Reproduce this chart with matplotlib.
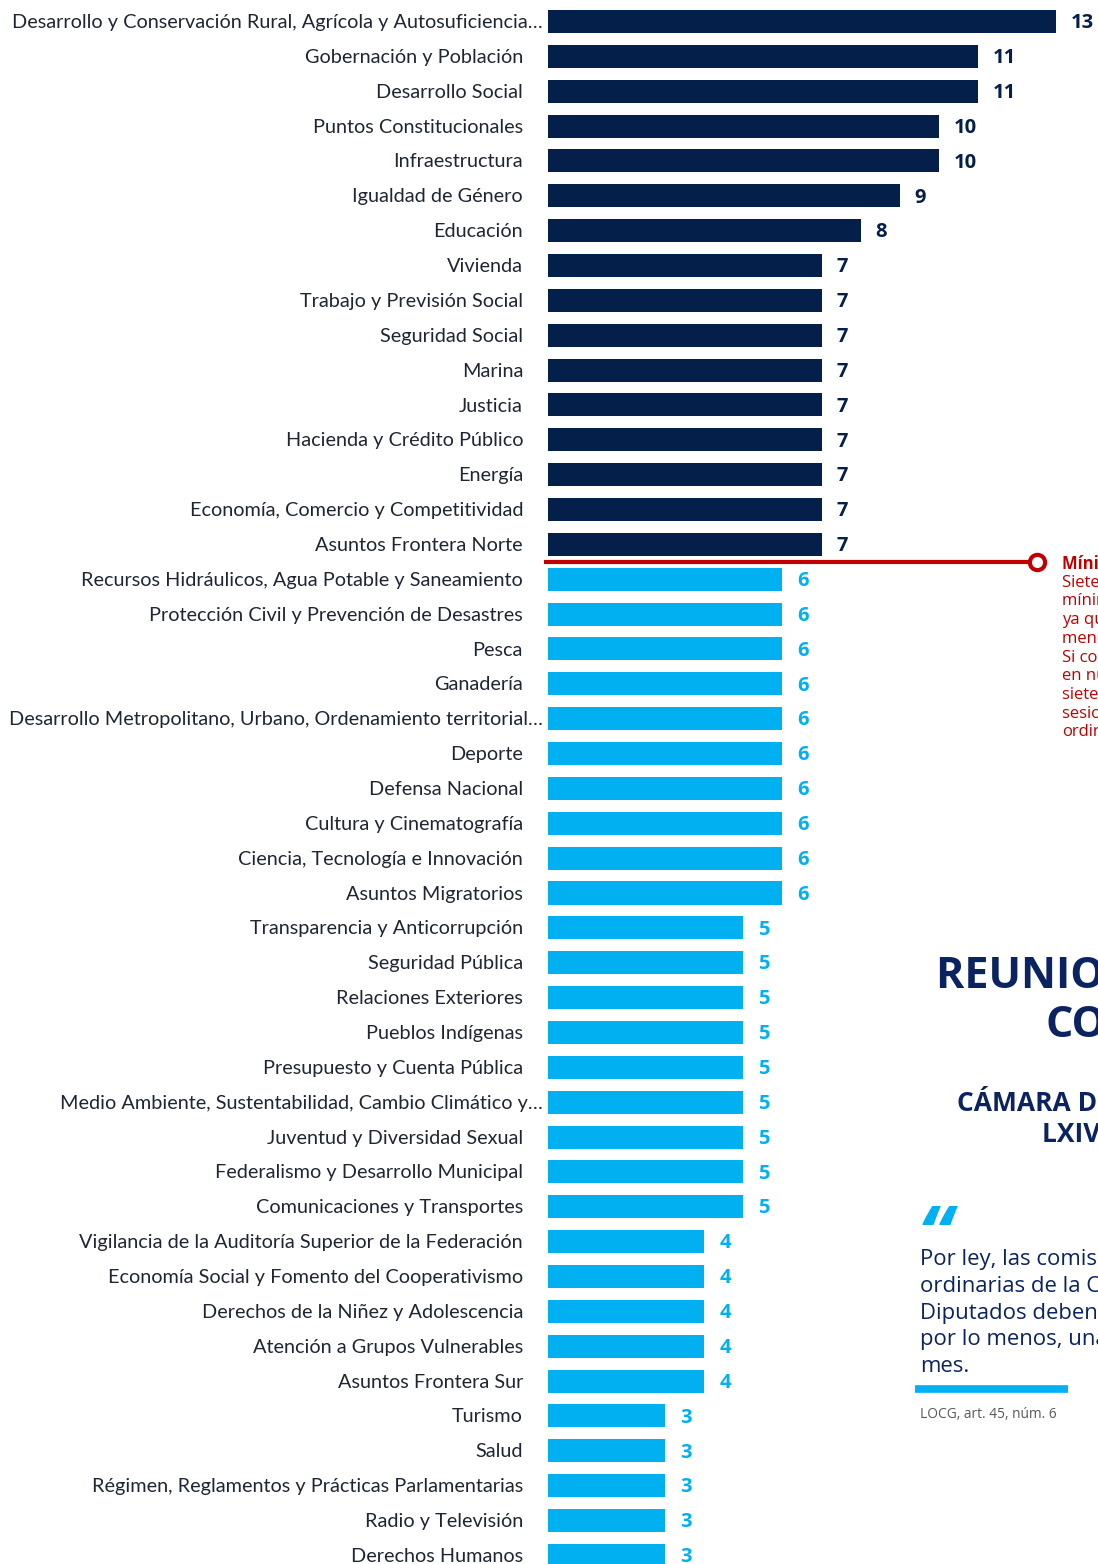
import matplotlib.pyplot as plt
from matplotlib.lines import Line2D

# Comisiones ordinarias y número de reuniones
comisiones = [
    "Desarrollo y Conservación Rural, Agrícola y Autosuficiencia…",
    "Gobernación y Población",
    "Desarrollo Social",
    "Puntos Constitucionales",
    "Infraestructura",
    "Igualdad de Género",
    "Educación",
    "Vivienda",
    "Trabajo y Previsión Social",
    "Seguridad Social",
    "Marina",
    "Justicia",
    "Hacienda y Crédito Público",
    "Energía",
    "Economía, Comercio y Competitividad",
    "Asuntos Frontera Norte",
    "Recursos Hidráulicos, Agua Potable y Saneamiento",
    "Protección Civil y Prevención de Desastres",
    "Pesca",
    "Ganadería",
    "Desarrollo Metropolitano, Urbano, Ordenamiento territorial…",
    "Deporte",
    "Defensa Nacional",
    "Cultura y Cinematografía",
    "Ciencia, Tecnología e Innovación",
    "Asuntos Migratorios",
    "Transparencia y Anticorrupción",
    "Seguridad Pública",
    "Relaciones Exteriores",
    "Pueblos Indígenas",
    "Presupuesto y Cuenta Pública",
    "Medio Ambiente, Sustentabilidad, Cambio Climático y…",
    "Juventud y Diversidad Sexual",
    "Federalismo y Desarrollo Municipal",
    "Comunicaciones y Transportes",
    "Vigilancia de la Auditoría Superior de la Federación",
    "Economía Social y Fomento del Cooperativismo",
    "Derechos de la Niñez y Adolescencia",
    "Atención a Grupos Vulnerables",
    "Asuntos Frontera Sur",
    "Turismo",
    "Salud",
    "Régimen, Reglamentos y Prácticas Parlamentarias",
    "Radio y Televisión",
    "Derechos Humanos",
]
reuniones = [13, 11, 11, 10, 10, 9, 8, 7, 7, 7, 7, 7, 7, 7, 7, 7,
             6, 6, 6, 6, 6, 6, 6, 6, 6, 6,
             5, 5, 5, 5, 5, 5, 5, 5, 5,
             4, 4, 4, 4, 4,
             3, 3, 3, 3, 3]
minimo = 7

nota_minimo = [
    "Mínimo legal",
    "Siete reuniones es el",
    "mínimo esperado,",
    "ya que la ley exige al",
    "menos una por mes.",
    "Si consideramos que",
    "en nueve meses hubo",
    "siete meses de",
    "sesiones en periodos",
    "ordinarios.",
]
titulo = ["REUNIONES DE LAS", "COMISIONES"]
subtitulo = ["CÁMARA DE DIPUTADOS", "LXIV LEGISLATURA"]
cita = [
    "Por ley, las comisiones",
    "ordinarias de la Cámara de",
    "Diputados deben reunirse,",
    "por lo menos, una vez al",
    "mes.",
]
fuente = "LOCG, art. 45, núm. 6"

NAVY = "#04204a"
CYAN = "#00b0f0"
RED = "#c00000"
TITLE = "#0b2361"
LABEL = "#1f2633"

W, H = 1098, 1564
fig = plt.figure(figsize=(W / 100, H / 100), dpi=100)
fig.patch.set_facecolor("white")


def fx(x):
    return x / W


def fy(y):
    return 1 - y / H


# bar area: 39.08 px per meeting, 34.86 px per row
unit = 39.08
row = 34.86
top = 21.5
ax = fig.add_axes([fx(548), 0, 1 - fx(548), 1])
ax.set_xlim(0, (W - 548) / unit)
ax.set_ylim((H - top) / row, -top / row)
ax.axis("off")

colors = [NAVY if v >= minimo else CYAN for v in reuniones]
ypos = list(range(len(comisiones)))
ax.barh(ypos, reuniones, height=0.66, color=colors)

for i, (name, v, c) in enumerate(zip(comisiones, reuniones, colors)):
    off = 5 / unit if name.endswith("…") else 25 / unit
    ax.text(-off, i + 0.03, name, ha="right", va="center", fontsize=14.3,
            family="Lato", color=LABEL, clip_on=False)
    ax.text(v + 15 / unit, i + 0.05, str(v), ha="left", va="center",
            fontsize=14.5, fontweight="bold", family="Open Sans",
            color=c, clip_on=False)

# line marking the legal minimum
ax.add_line(Line2D([-4 / unit, 12.3], [15.5, 15.5], color=RED, lw=3,
                   clip_on=False, solid_capstyle="butt"))
ax.plot([12.5], [15.5], marker="o", ms=11, mfc="white", mec=RED, mew=3,
        clip_on=False)

for k, line in enumerate(nota_minimo):
    fig.text(fx(1062), fy(564 + 18.7 * k), line, ha="left", va="center",
             fontsize=12, family="Open Sans", color=RED,
             fontweight="bold" if k == 0 else "normal")

# side panel
fig.text(fx(936), fy(988), titulo[0], ha="left", va="baseline",
         fontsize=31, fontweight="bold", family="Open Sans", color=TITLE)
fig.text(fx(1045), fy(1037), titulo[1], ha="left", va="baseline",
         fontsize=31, fontweight="bold", family="Open Sans", color=TITLE)
fig.text(fx(957), fy(1111), subtitulo[0], ha="left", va="baseline",
         fontsize=19, fontweight="bold", family="Open Sans", color=TITLE)
fig.text(fx(1042), fy(1142), subtitulo[1], ha="left", va="baseline",
         fontsize=19, fontweight="bold", family="Open Sans", color=TITLE)

fig.text(fx(918), fy(1202), "\u201c", ha="left", va="top",
         fontsize=56, fontweight="bold", style="italic",
         family="Open Sans", color=CYAN)
for k, line in enumerate(cita):
    fig.text(fx(920), fy(1265 + 26.8 * k), line, ha="left",
             va="baseline", fontsize=15.9, family="Open Sans",
             color=TITLE)
fig.add_artist(Line2D([fx(915), fx(1068)], [fy(1389), fy(1389)],
                      color=CYAN, lw=5.5, solid_capstyle="butt"))
fig.text(fx(920), fy(1414), fuente, ha="left", va="center",
         fontsize=9.9, family="Open Sans", color="#595959")

fig.savefig("out.png", dpi=100, facecolor="white")
